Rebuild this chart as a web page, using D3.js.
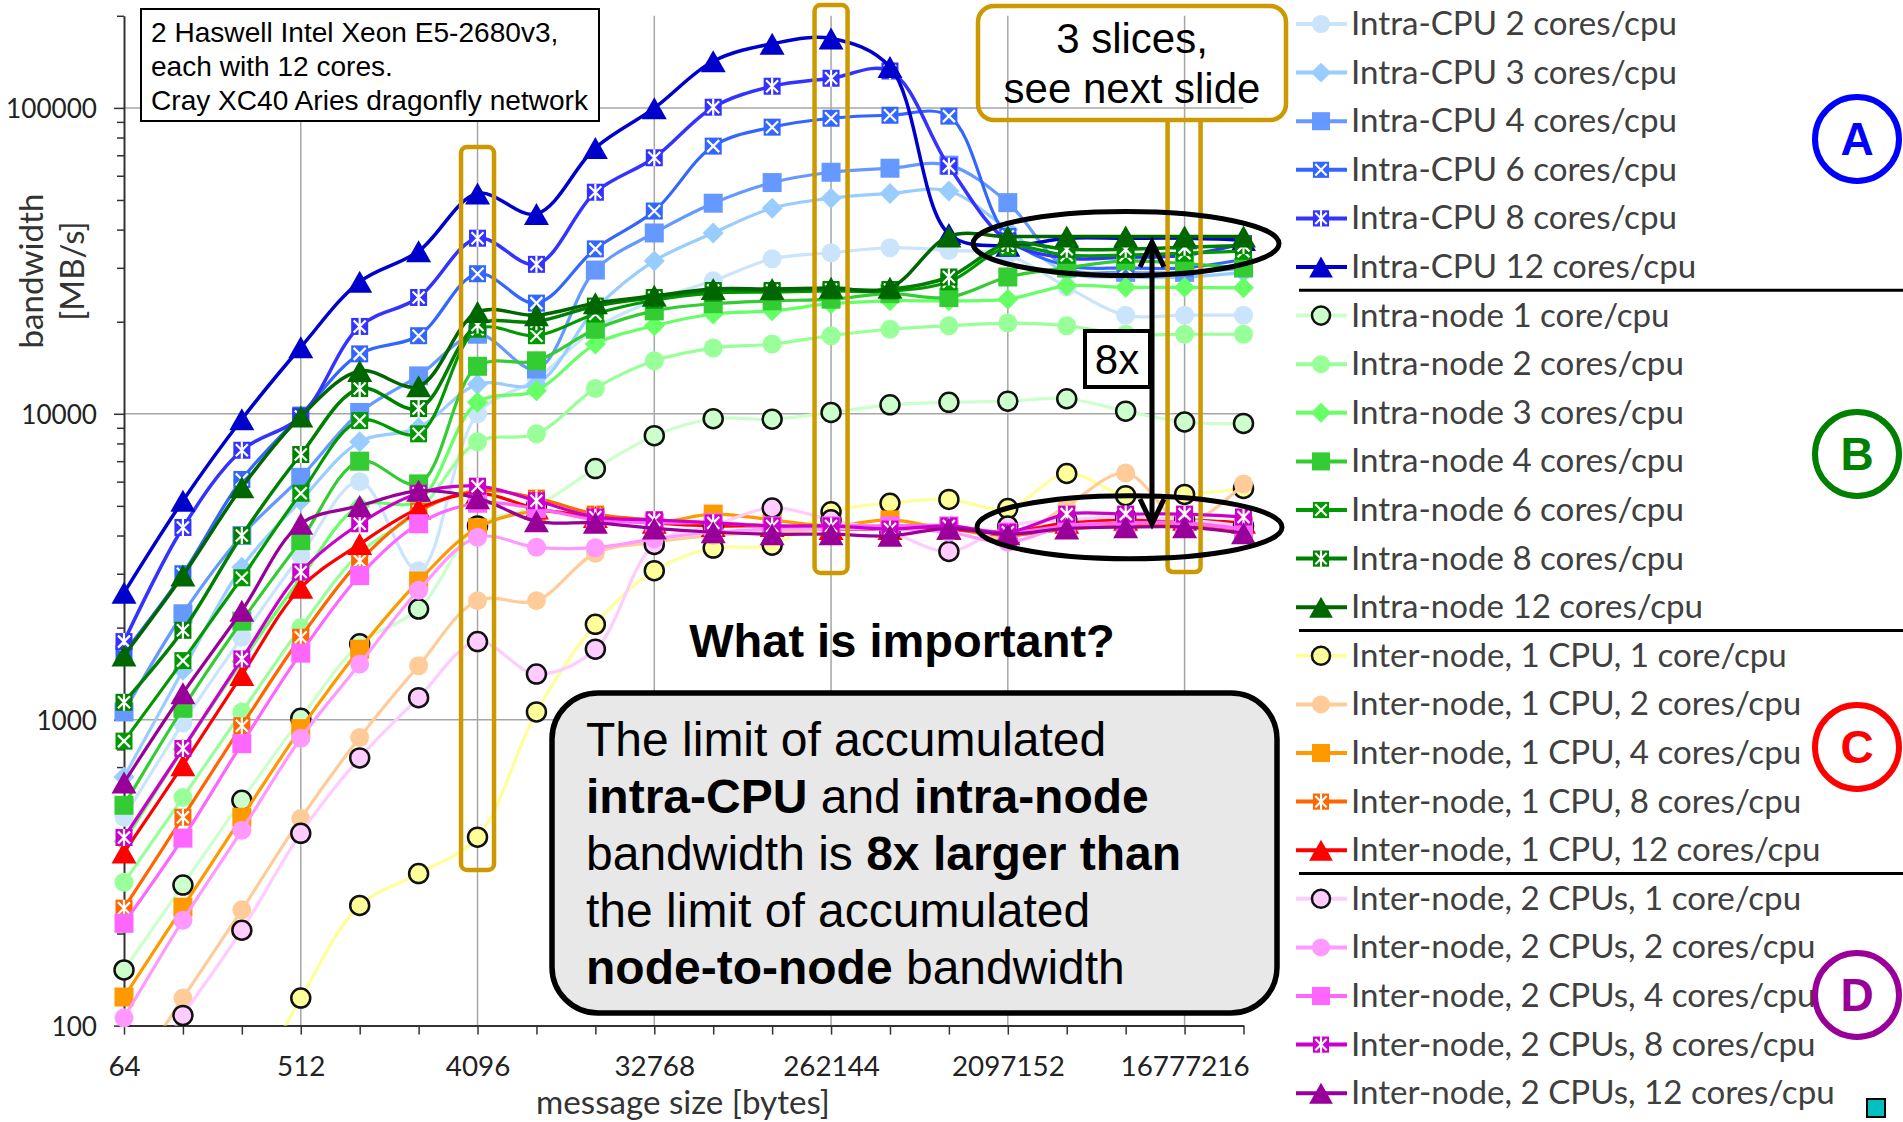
<!DOCTYPE html>
<html><head><meta charset="utf-8">
<script src="https://cdn.jsdelivr.net/npm/d3@7"></script>
<style>body{margin:0;background:#fff;} svg{display:block;}</style>
</head><body>
<svg id="chart" width="1903" height="1122"></svg>
<script>
// ---------------- DATA ----------------
const sizes = [64,128,256,512,1024,2048,4096,8192,16384,32768,65536,131072,262144,524288,1048576,2097152,4194304,8388608,16777216,33554432];
const xTickLabels = [64,512,4096,32768,262144,2097152,16777216];
const yTickLabels = [100,1000,10000,100000];

const intraCpu2  = [480,975,1860,3450,6000,3070,10000,13000,19000,23500,27200,32100,33600,34900,34200,33000,26000,21000,21000,21000];
const intraCpu3  = [650,1450,3150,5200,8100,9000,12500,12500,22000,31600,39000,47000,50700,52500,53500,40000,29000,28000,28000,29000];
const intraCpu4  = [1060,2220,4000,6200,10100,13300,18200,14000,29500,39000,48800,57000,61600,63500,65000,49000,30000,29000,29000,30000];
const intraCpu6  = [1650,3000,6100,9900,15700,18000,28700,23000,34600,46000,75000,86500,92500,94600,94000,38000,30500,30000,30000,32000];
const intraCpu8  = [1800,4250,7600,9800,19300,24000,37500,30800,53000,68700,100500,117700,125000,132000,64500,36700,32300,32500,33000,36000];
const intraCpu12 = [2600,5200,9600,16500,27000,34000,52500,45000,74000,99800,142000,162000,168600,136000,38700,35400,37500,37500,37500,37000];

const intraNode1  = [152,288,545,1010,1770,2300,4300,5000,6620,8480,9640,9600,10100,10700,10900,11000,11200,10200,9400,9300];
const intraNode2  = [294,557,1060,2000,3500,4800,8100,8600,12100,14900,16400,16900,18000,18900,19400,19800,19400,18200,18200,18200];
const intraNode3  = [400,800,1550,2900,5000,5200,10900,11900,16900,19400,21200,21700,22900,23400,23400,23700,26200,25900,25900,25800];
const intraNode4  = [525,1090,2100,3850,7000,5900,14300,14900,18900,21700,22900,23400,23700,24700,24000,28000,30000,31600,31000,30000];
const intraNode6  = [851,1560,2910,5500,9500,8600,18900,18000,21200,23500,24800,25000,25200,25200,27000,35000,33000,33000,33500,34000];
const intraNode8  = [1140,1960,4000,7360,12100,10400,19500,20000,22500,24000,25300,25300,25500,25500,28000,36000,34500,34500,35000,35500];
const intraNode12 = [1620,2960,5750,9800,13800,12300,21500,21000,23000,24300,25600,25600,25800,25800,38000,38000,38000,38000,38000,38000];

const inter1Cpu1  = [20,30,55,123,247,314,413,1060,2050,3070,3640,3720,4780,5100,5250,4900,6380,5400,5450,5700];
const inter1Cpu2  = [62,123,239,475,875,1500,2450,2450,3500,3800,4000,4100,4200,4300,4300,3900,5000,6400,4400,5900];
const inter1Cpu4  = [124,244,480,935,1700,2840,4240,4800,4600,4400,4700,4500,4300,4500,4200,4100,4300,4300,4400,4300];
const inter1Cpu8  = [242,480,956,1860,3300,4800,5600,5300,4700,4500,4400,4300,4200,4200,4200,4000,4200,4300,4300,4200];
const inter1Cpu12 = [368,710,1400,2700,3750,4900,5500,4900,4600,4400,4300,4300,4200,4200,4200,4100,4400,4500,4500,4400];

const inter2Cpu1  = [55,108,205,425,750,1180,1800,1410,1700,3740,4300,4920,4500,4100,3550,4300,4500,4600,4500,4300];
const inter2Cpu2  = [106,221,435,870,1520,2650,3950,3660,3650,3900,4100,4200,4200,4200,4100,3800,4300,4400,4400,4200];
const inter2Cpu4  = [216,410,835,1650,2960,4370,5100,4900,4500,4400,4400,4300,4300,4300,4300,4100,4300,4400,4400,4200];
const inter2Cpu8  = [412,805,1580,3040,4370,5500,5800,5200,4600,4500,4400,4300,4300,4200,4300,4100,4700,4700,4700,4600];
const inter2Cpu12 = [623,1220,2270,4370,5000,5600,5300,4450,4400,4220,4100,4040,4040,3990,4220,4040,4220,4260,4260,4070];

const seriesNames = [
  "Intra-CPU 2 cores/cpu","Intra-CPU 3 cores/cpu","Intra-CPU 4 cores/cpu","Intra-CPU 6 cores/cpu","Intra-CPU 8 cores/cpu","Intra-CPU 12 cores/cpu",
  "Intra-node 1 core/cpu","Intra-node 2 cores/cpu","Intra-node 3 cores/cpu","Intra-node 4 cores/cpu","Intra-node 6 cores/cpu","Intra-node 8 cores/cpu","Intra-node 12 cores/cpu",
  "Inter-node, 1 CPU, 1 core/cpu","Inter-node, 1 CPU, 2 cores/cpu","Inter-node, 1 CPU, 4 cores/cpu","Inter-node, 1 CPU, 8 cores/cpu","Inter-node, 1 CPU, 12 cores/cpu",
  "Inter-node, 2 CPUs, 1 core/cpu","Inter-node, 2 CPUs, 2 cores/cpu","Inter-node, 2 CPUs, 4 cores/cpu","Inter-node, 2 CPUs, 8 cores/cpu","Inter-node, 2 CPUs, 12 cores/cpu"];
const seriesValues = [intraCpu2,intraCpu3,intraCpu4,intraCpu6,intraCpu8,intraCpu12,
  intraNode1,intraNode2,intraNode3,intraNode4,intraNode6,intraNode8,intraNode12,
  inter1Cpu1,inter1Cpu2,inter1Cpu4,inter1Cpu8,inter1Cpu12,
  inter2Cpu1,inter2Cpu2,inter2Cpu4,inter2Cpu8,inter2Cpu12];
const seriesColors = ["#c9e4fb","#99ccff","#6699ff","#3366ff","#3333ff","#0000cc",
  "#ccffcc","#99ff99","#66ff66","#33cc33","#009900","#008000","#006600",
  "#ffff99","#ffcc99","#ff9900","#ff6600","#ff0000",
  "#ffccff","#ff99ff","#ff66ff","#cc00cc","#990099"];
const seriesMarkers = ["circle","diamond","square","xsq","asq","triangle",
  "ocircle","circle","diamond","square","xsq","asq","triangle",
  "ocircle","circle","square","asq","triangle",
  "ocircle","circle","square","asq","triangle"];
const groupSeparatorsAfter = [5,12,17];
const groupLetters = ["A","B","C","D"];
const groupColors = ["#0000ff","#008000","#ff0000","#990099"];

// ---------------- SETUP ----------------
const svg = d3.select('#chart');
const x = d3.scaleLog().base(2).domain([64,33554432]).range([124,1243.5]);
const y = d3.scaleLog().domain([100,200000]).range([1025.6,15.8]);
const calib = 'Lato, "Open Sans", sans-serif';
const arial = '"Liberation Sans", Arial, sans-serif';

function fit(sel, target){
  const w = sel.node().getComputedTextLength();
  const fs = parseFloat(sel.attr('font-size'));
  sel.attr('font-size', fs*target/w);
  return fs*target/w;
}

// gridlines
const grid = svg.append('g').attr('stroke','#a6a6a6').attr('stroke-width',1.5);
grid.selectAll('line.h').data(yTickLabels.slice(1)).join('line')
  .attr('x1',x.range()[0]).attr('x2',x.range()[1]).attr('y1',d=>y(d)).attr('y2',d=>y(d));
grid.selectAll('line.v').data(xTickLabels.slice(1)).join('line')
  .attr('x1',d=>x(d)).attr('x2',d=>x(d)).attr('y1',y.range()[1]).attr('y2',y.range()[0]);

// axes
const minorY = [];
for (let e=2;e<=5;e++) for (let m=1;m<=9;m++){ const v=m*Math.pow(10,e); if (v<=200000) minorY.push(v); }
const yAxis = d3.axisLeft(y).tickValues(minorY).tickSize(7).tickSizeOuter(0).tickPadding(20)
  .tickFormat(d => yTickLabels.includes(d) ? String(d) : '');
const gy = svg.append('g').attr('transform',`translate(${x.range()[0]},0)`).call(yAxis);
gy.select('.domain').attr('stroke','#333').attr('stroke-width',2);
gy.selectAll('.tick line').attr('stroke','#333').attr('stroke-width',1.5)
  .filter(d=>yTickLabels.includes(d)).attr('x2',-10);
gy.selectAll('.tick text').attr('font-family',calib).attr('font-size',26).attr('fill','#222').attr('dy','0.36em');
let yfs = 26;
gy.selectAll('.tick text').filter(d=>d===100000).each(function(){ yfs = fit(d3.select(this),91); });
gy.selectAll('.tick text').attr('font-size',yfs);

const xAxis = d3.axisBottom(x).tickValues(sizes).tickSize(9).tickSizeOuter(0)
  .tickFormat(d => xTickLabels.includes(d) ? String(d) : '');
const gx = svg.append('g').attr('transform',`translate(0,${y.range()[0]})`).call(xAxis);
gx.select('.domain').attr('stroke','#333').attr('stroke-width',2);
gx.selectAll('.tick line').attr('stroke','#333').attr('stroke-width',1.5);
gx.selectAll('.tick text').attr('font-family',calib).attr('font-size',28).attr('fill','#222').attr('y',50).attr('dy',0);
let xfs = 28;
gx.selectAll('.tick text').filter(d=>d===16777216).each(function(){ xfs = fit(d3.select(this),129); });
gx.selectAll('.tick text').attr('font-size',xfs);

// axis titles
const xt = svg.append('text').attr('x',683).attr('y',1114).attr('text-anchor','middle')
  .attr('font-family',calib).attr('font-size',28).attr('fill','#333').text('message size [bytes]');
fit(xt,294);
const yt1 = svg.append('text').attr('transform','translate(43,271) rotate(-90)').attr('text-anchor','middle')
  .attr('font-family',calib).attr('font-size',28).attr('fill','#333').text('bandwidth');
const tfs = fit(yt1,155);
svg.append('text').attr('transform','translate(84,271) rotate(-90)').attr('text-anchor','middle')
  .attr('font-family',calib).attr('font-size',tfs).attr('fill','#333').text('[MB/s]');

// ---------------- MARKERS ----------------
function drawMarker(g, type, color, scale){
  const s = scale||1;
  if (type==='circle' || type==='ocircle'){
    g.append('circle').attr('r',9.5*s).attr('fill',color)
      .attr('stroke', type==='ocircle' ? '#111' : 'none').attr('stroke-width',2.5);
  } else if (type==='diamond'){
    const a=10.5*s;
    g.append('path').attr('d',`M0,${-a}L${a},0L0,${a}L${-a},0Z`).attr('fill',color);
  } else if (type==='square'){
    const a=9.5*s;
    g.append('rect').attr('x',-a).attr('y',-a).attr('width',2*a).attr('height',2*a).attr('fill',color);
  } else if (type==='triangle'){
    const w=12.5*s, h=11*s;
    g.append('path').attr('d',`M0,${-h}L${w},${h}L${-w},${h}Z`).attr('fill',color);
  } else if (type==='xsq' || type==='asq'){
    const a=8.5*s, b=6*s;
    g.append('rect').attr('x',-a).attr('y',-a).attr('width',2*a).attr('height',2*a).attr('fill',color);
    let d = `M${-b},${-b}L${b},${b}M${b},${-b}L${-b},${b}`;
    if (type==='asq') d += `M0,${-a}L0,${a}`;
    g.append('path').attr('d',d).attr('stroke','#fff').attr('stroke-width',2.2*s).attr('fill','none');
  }
}

// ---------------- SERIES ----------------
svg.append('clipPath').attr('id','plotclip').append('rect')
  .attr('x',90).attr('y',0).attr('width',1200).attr('height',y.range()[0]);
const line = d3.line().x((d,i)=>x(sizes[i])).y(d=>y(d)).curve(d3.curveCatmullRom.alpha(0.5));
const plot = svg.append('g');
seriesValues.forEach((vals,si)=>{
  const g = plot.append('g');
  const lw = (si===5||si===12||si===4||si===11) ? 3.5 : 3.2;
  g.append('path').attr('d',line(vals)).attr('fill','none').attr('stroke',seriesColors[si])
    .attr('stroke-width',lw).attr('clip-path','url(#plotclip)');
  vals.forEach((v,i)=>{
    if (v < 97) return;
    const mg = g.append('g').attr('transform',`translate(${x(sizes[i])},${y(v)})`);
    drawMarker(mg, seriesMarkers[si], seriesColors[si]);
  });
});

// ---------------- LEGEND ----------------
const legend = svg.append('g');
const rowY = i => 19 + 48.6*i;
let lfs = 28;
seriesNames.forEach((name,i)=>{
  const yy = rowY(i);
  legend.append('line').attr('x1',1296).attr('x2',1347).attr('y1',yy).attr('y2',yy)
    .attr('stroke',seriesColors[i]).attr('stroke-width',4);
  const mg = legend.append('g').attr('transform',`translate(1321,${yy})`);
  drawMarker(mg, seriesMarkers[i], seriesColors[i], 0.95);
  const t = legend.append('text').attr('x',1351).attr('y',yy+11).attr('font-family',calib)
    .attr('font-size',lfs).attr('fill','#404040').attr('class','lt').text(name);
  if (i===0) lfs = fit(t,326);
});
legend.selectAll('text.lt').attr('font-size',lfs);
groupSeparatorsAfter.forEach(r=>{
  const yy = (rowY(r)+rowY(r+1))/2 - 1;
  legend.append('line').attr('x1',1299).attr('x2',1903).attr('y1',yy).attr('y2',yy)
    .attr('stroke','#000').attr('stroke-width',3);
});
// keep the first legend text inside the picture (shift the whole legend together)
const firstBox = legend.select('text.lt').node().getBBox();
const legendShift = firstBox.y < 2 ? (2 - firstBox.y) : 0;
legend.attr('transform',`translate(0,${legendShift})`);

groupLetters.forEach((L,i)=>{
  const cy = [139,454,747,995][i];
  svg.append('circle').attr('cx',1857).attr('cy',cy).attr('r',42).attr('fill','none')
    .attr('stroke',groupColors[i]).attr('stroke-width',6);
  svg.append('text').attr('x',1857).attr('y',cy+16).attr('text-anchor','middle')
    .attr('font-family',arial).attr('font-weight','bold').attr('font-size',46)
    .attr('fill',groupColors[i]).text(L);
});
svg.append('rect').attr('x',1867).attr('y',1099).attr('width',18).attr('height',18)
  .attr('fill','#00c0c0').attr('stroke','#000').attr('stroke-width',2);

// ---------------- ANNOTATIONS ----------------
const ann = svg.append('g');
// info box
ann.append('rect').attr('x',141).attr('y',9).attr('width',458).attr('height',112)
  .attr('fill','#fff').attr('stroke','#000').attr('stroke-width',2);
const infoLines = ["2 Haswell Intel Xeon E5-2680v3,","each with 12 cores.","Cray XC40 Aries dragonfly network"];
let ifs = 26;
infoLines.forEach((s,i)=>{
  const t = ann.append('text').attr('x',151).attr('y',[42,76,110][i]).attr('font-family',arial)
    .attr('font-size',ifs).attr('fill','#000').attr('class','info').text(s);
  if (i===2) ifs = fit(t,437);
});
ann.selectAll('text.info').attr('font-size',ifs);

const gold = '#cc9900';
// tall slices
[[4096,147,870],[262144,5,573]].forEach(([v,t,b])=>{
  ann.append('rect').attr('x',x(v)-16.5).attr('y',t).attr('width',33).attr('height',b-t)
    .attr('rx',6).attr('fill','none').attr('stroke',gold).attr('stroke-width',4.5);
});
const xs = x(16777216);
ann.append('path').attr('d',`M${xs-17},120V566Q${xs-17},572 ${xs-11},572H${xs+10}Q${xs+16},572 ${xs+16},566V120`)
  .attr('fill','none').attr('stroke',gold).attr('stroke-width',4.5);
ann.append('rect').attr('x',978).attr('y',6).attr('width',308).attr('height',114).attr('rx',16)
  .attr('fill','none').attr('stroke',gold).attr('stroke-width',4.5);
ann.append('text').attr('x',1132).attr('y',53).attr('text-anchor','middle').attr('font-family',arial)
  .attr('font-size',42).attr('fill','#000').text('3 slices,');
ann.append('text').attr('x',1132).attr('y',103).attr('text-anchor','middle').attr('font-family',arial)
  .attr('font-size',42).attr('fill','#000').text('see next slide');

// ellipses
ann.append('ellipse').attr('cx',1126).attr('cy',y(36000)).attr('rx',153).attr('ry',32)
  .attr('fill','none').attr('stroke','#000').attr('stroke-width',5);
ann.append('ellipse').attr('cx',1129.5).attr('cy',y(4260)).attr('rx',152.5).attr('ry',31.5)
  .attr('fill','none').attr('stroke','#000').attr('stroke-width',5);
// arrow
const ax = 1152, ay1 = 242, ay2 = 524;
ann.append('path').attr('d',`M${ax},${ay1}V${ay2}M${ax-12},${ay1+25}L${ax},${ay1}L${ax+12},${ay1+25}M${ax-12},${ay2-25}L${ax},${ay2}L${ax+12},${ay2-25}`)
  .attr('fill','none').attr('stroke','#000').attr('stroke-width',5).attr('stroke-linejoin','miter');
ann.append('rect').attr('x',1085).attr('y',331).attr('width',65).attr('height',56)
  .attr('fill','#fff').attr('stroke','#000').attr('stroke-width',4);
ann.append('text').attr('x',1117).attr('y',374).attr('text-anchor','middle').attr('font-family',arial)
  .attr('font-size',42).attr('fill','#000').text('8x');

// question
ann.append('text').attr('x',902).attr('y',657).attr('text-anchor','middle').attr('font-family',arial)
  .attr('font-weight','bold').attr('font-size',47).attr('fill','#000').text('What is important?');

// big box
ann.append('rect').attr('x',552).attr('y',693).attr('width',725).attr('height',320).attr('rx',46)
  .attr('fill','#e8e8e8').attr('stroke','#000').attr('stroke-width',5.5);
const boxLines = [
  [["The limit of accumulated",false]],
  [["intra-CPU",true],[" and ",false],["intra-node",true]],
  [["bandwidth is ",false],["8x larger than",true]],
  [["the limit of accumulated",false]],
  [["node-to-node",true],[" bandwidth",false]]
];
boxLines.forEach((parts,i)=>{
  const t = ann.append('text').attr('x',586).attr('y',756+57*i).attr('font-family',arial)
    .attr('font-size',48).attr('fill','#000');
  parts.forEach(([s,b])=>{
    t.append('tspan').attr('font-weight',b?'bold':'normal').text(s);
  });
});
</script>
</body></html>
